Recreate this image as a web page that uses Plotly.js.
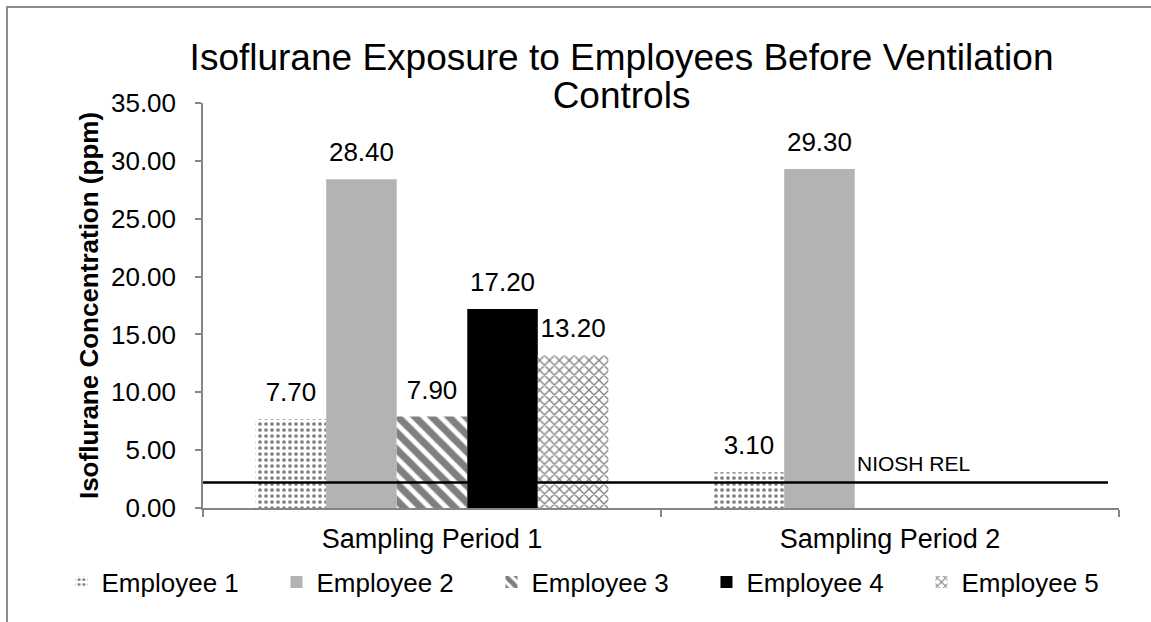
<!DOCTYPE html>
<html>
<head>
<meta charset="utf-8">
<script src="https://cdn.plot.ly/plotly-3.0.1.min.js"></script>
<style>
  html, body { margin: 0; padding: 0; background: #ffffff; }
  #chart { width: 1151px; height: 622px; }
</style>
</head>
<body>
<div id="chart"></div>
<script>
// ---- Data ----
const categories = ["Sampling Period 1", "Sampling Period 2"];
const seriesNames = ["Employee 1", "Employee 2", "Employee 3", "Employee 4", "Employee 5"];
const employee1 = [7.70, 3.10];
const employee2 = [28.40, 29.30];
const employee3 = [7.90, null];
const employee4 = [17.20, null];
const employee5 = [13.20, null];
const nioshRel = 2.2;
const nioshLabel = "NIOSH REL";
const yTicks = [0, 5, 10, 15, 20, 25, 30, 35];
const titleLines = ["Isoflurane Exposure to Employees Before Ventilation", "Controls"];

// ---- Styles ----
const FONT = "Liberation Sans, Arial, sans-serif";
const seriesValues = [employee1, employee2, employee3, employee4, employee5];
const markers = [
  { color: "#ffffff", pattern: { shape: ".", fgcolor: "#000000", bgcolor: "#ffffff", size: 6, solidity: 0.3, fillmode: "overlay" } },
  { color: "#b3b3b3" },
  { color: "#ffffff", pattern: { shape: "\\", fgcolor: "#000000", bgcolor: "#ffffff", size: 12, solidity: 0.6, fillmode: "overlay" } },
  { color: "#000000" },
  { color: "#ffffff", pattern: { shape: "x", fgcolor: "#000000", bgcolor: "#ffffff", size: 7, solidity: 0.35, fillmode: "overlay" } }
];

const traces = seriesNames.map((name, i) => ({
  type: "bar",
  name: name,
  x: categories,
  y: seriesValues[i],
  marker: Object.assign({ line: { width: 0 } }, markers[i]),
  text: seriesValues[i].map(v => v == null ? "" : v.toFixed(2)),
  texttemplate: '<span style="font-size:26px">%{text}</span><br>&nbsp;',
  textposition: "outside",
  constraintext: "none",
  textfont: { family: FONT, size: 10, color: "#000000" },
  cliponaxis: false,
  hoverinfo: "x+y+name"
}));

const layout = {
  width: 1151,
  height: 622,
  paper_bgcolor: "#ffffff",
  plot_bgcolor: "#ffffff",
  font: { family: FONT, color: "#000000", size: 26 },
  margin: { l: 203, r: 32, t: 103, b: 114, autoexpand: false },
  title: {
    text: titleLines.map(t => '<span style="font-size:37px">' + t + '</span>').join("<br>"),
    font: { family: FONT, size: 29, color: "#000000" },
    xref: "container", x: 0.54, xanchor: "center",
    yref: "container", y: 0.887, yanchor: "top"
  },
  barmode: "group",
  bargap: 0.23,
  bargroupgap: 0,
  showlegend: true,
  legend: {
    orientation: "h",
    x: -0.1545, xanchor: "left",
    y: -0.183, yanchor: "middle",
    entrywidth: 170, entrywidthmode: "pixels",
    font: { family: FONT, size: 26, color: "#000000" },
    traceorder: "normal",
    itemclick: false, itemdoubleclick: false
  },
  xaxis: {
    type: "category",
    showline: true, linecolor: "#868686", linewidth: 1.5,
    ticks: "outside", tickson: "boundaries", ticklen: 7, tickcolor: "#868686", tickwidth: 1.5,
    ticklabelstandoff: 6,
    showgrid: false, zeroline: false,
    tickfont: { family: FONT, size: 27, color: "#000000" },
    automargin: false
  },
  yaxis: {
    range: [0, 35],
    tickvals: yTicks,
    tickformat: ".2f",
    showline: true, linecolor: "#868686", linewidth: 1.5,
    ticks: "outside", ticklen: 6, tickcolor: "#868686", tickwidth: 1.5,
    ticklabelstandoff: 14,
    showgrid: false, zeroline: false,
    tickfont: { family: FONT, size: 26, color: "#000000" },
    title: { text: "<b>Isoflurane Concentration (ppm)</b>", font: { family: FONT, size: 26, color: "#000000" }, standoff: 5 },
    automargin: false
  },
  shapes: [
    { type: "line", xref: "paper", yref: "y", x0: 0, x1: 0.988, y0: nioshRel, y1: nioshRel,
      line: { color: "#000000", width: 2.5 }, layer: "above" },
    { type: "rect", xref: "paper", yref: "paper", x0: -0.214, x1: 1.2, y0: -0.5, y1: 1.237,
      line: { color: "#8c8c8c", width: 2 }, fillcolor: "rgba(0,0,0,0)", layer: "below" }
  ],
  annotations: [
    { text: nioshLabel, xref: "paper", yref: "y", x: 0.712, y: nioshRel, xanchor: "left", yanchor: "bottom",
      yshift: 6, showarrow: false, font: { family: FONT, size: 21, color: "#000000" } }
  ]
};

Plotly.newPlot("chart", traces, layout, { displayModeBar: false });
</script>
</body>
</html>
